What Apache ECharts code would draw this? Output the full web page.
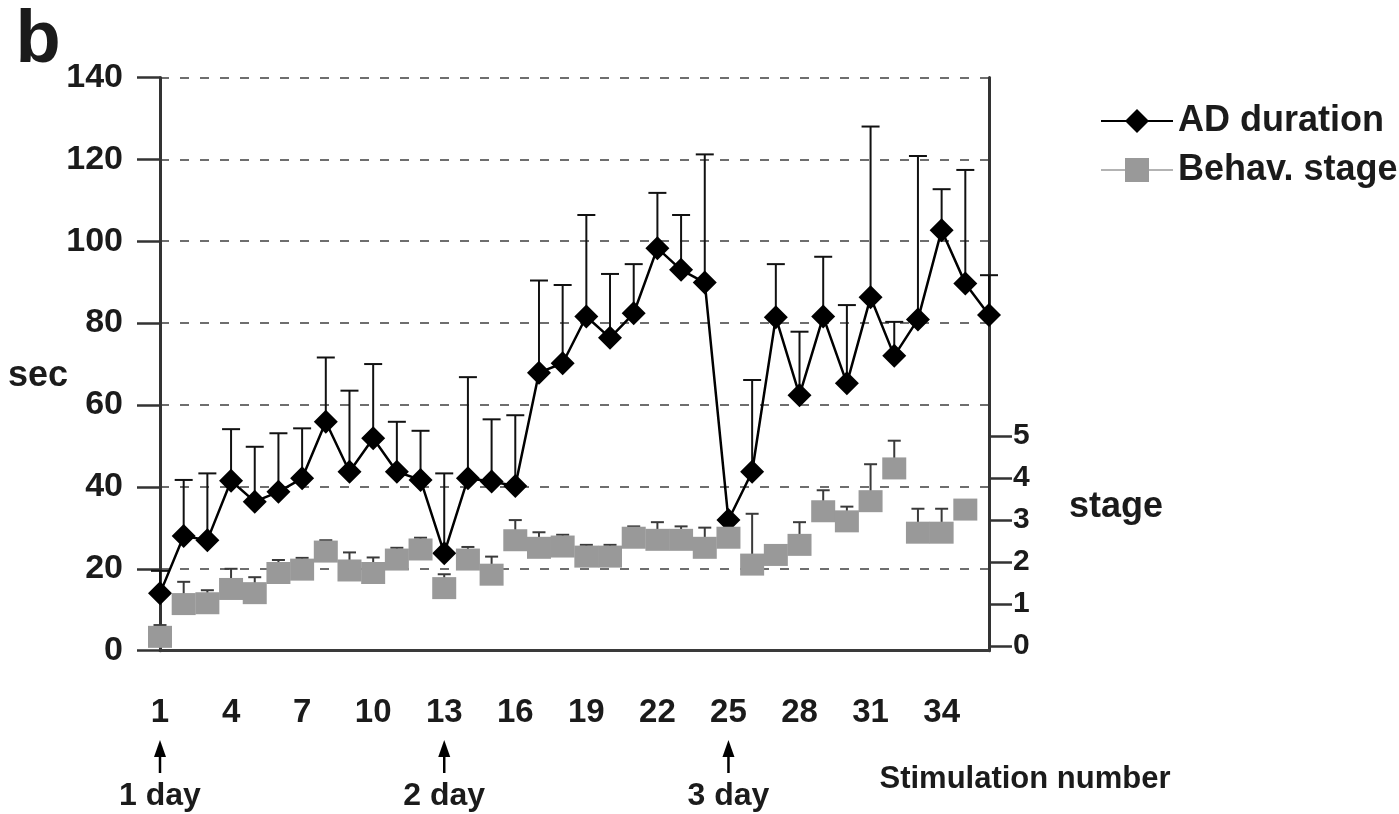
<!DOCTYPE html>
<html lang="en">
<head>
<meta charset="UTF-8">
<title>AD duration / Behav. stage</title>
<style>
  html, body { margin: 0; padding: 0; background: #fff; }
  #chart { width: 1399px; height: 814px; }
</style>
</head>
<body>
<div id="chart"></div>
<script src="https://cdn.jsdelivr.net/npm/echarts@6/dist/echarts.min.js"></script>
<script>
// stimulation numbers on the x axis
var stimNum = ['1','2','3','4','5','6','7','8','9','10','11','12','13','14','15','16','17','18',
  '19','20','21','22','23','24','25','26','27','28','29','30','31','32','33','34','35','36'];

// AD duration (sec), mean and top of the error bar
var adMean = [14.0, 28.0, 27.0, 41.5, 36.4, 38.8, 42.1, 55.9, 43.7, 51.9, 43.7, 41.7,
  23.8, 42.1, 41.3, 40.2, 67.9, 70.2, 81.6, 76.4, 82.4, 98.3, 93.0, 89.9,
  31.9, 43.7, 81.4, 62.4, 81.6, 65.3, 86.3, 72.0, 80.9, 102.7, 89.7, 82.0];
var adTop = [19.5, 41.7, 43.3, 54.1, 49.8, 53.1, 54.3, 71.6, 63.5, 70.0, 55.9, 53.7,
  43.3, 66.8, 56.5, 57.5, 90.4, 89.3, 106.4, 92.0, 94.4, 111.8, 106.4, 121.2,
  31.9, 66.1, 94.4, 77.9, 96.2, 84.4, 128.0, 80.3, 120.8, 112.7, 117.4, 91.7];

// behavioural stage, mean and top of the error bar
var stageMean = [0.22, 1.0, 1.02, 1.36, 1.26, 1.74, 1.82, 2.25, 1.80, 1.74, 2.06, 2.30,
  1.38, 2.06, 1.70, 2.52, 2.34, 2.37, 2.13, 2.13, 2.58, 2.53, 2.53, 2.34,
  2.58, 1.94, 2.17, 2.41, 3.21, 2.97, 3.45, 4.23, 2.70, 2.70, 3.25, null];
var stageTop = [0.5, 1.53, 1.33, 1.84, 1.64, 2.05, 2.10, 2.52, 2.23, 2.11, 2.34, 2.58,
  1.71, 2.36, 2.13, 3.0, 2.71, 2.65, 2.41, 2.41, 2.85, 2.95, 2.85, 2.82,
  2.58, 3.15, 2.17, 2.95, 3.71, 3.32, 4.33, 4.89, 3.27, 3.27, 3.25, null];

var stageTicks = [0, 1, 2, 3, 4, 5];

// day markers under the axis
var dayStart = ['1', '13', '25'];
var dayLabel = ['1 day', '2 day', '3 day'];

var FONT = '"Liberation Sans", Arial, Helvetica, sans-serif';
var INK = '#1b1b1b';

function errData(mean, top) {
  var out = [];
  for (var i = 0; i < mean.length; i++) {
    if (mean[i] == null || top[i] == null) continue;
    out.push([i, mean[i], top[i]]);
  }
  return out;
}

function errRenderer(color, width, cap) {
  return function (params, api) {
    var lo = api.value(1), hi = api.value(2);
    if (!(hi > lo)) return null;
    var p0 = api.coord([api.value(0), lo]);
    var p1 = api.coord([api.value(0), hi]);
    var st = { stroke: color, lineWidth: width };
    return {
      type: 'group',
      children: [
        { type: 'line', shape: { x1: p0[0], y1: p0[1], x2: p1[0], y2: p1[1] }, style: st },
        { type: 'line', shape: { x1: p1[0] - cap / 2, y1: p1[1], x2: p1[0] + cap / 2, y2: p1[1] }, style: st }
      ]
    };
  };
}

var chart = echarts.init(document.getElementById('chart'));

var option = {
  animation: false,
  backgroundColor: '#fff',
  textStyle: { fontFamily: FONT, fontWeight: 'bold', color: INK },
  grid: { left: 160, right: 410, top: 77.4, bottom: 163.3, containLabel: false },
  legend: {
    orient: 'vertical',
    left: 1095,
    top: 98,
    itemWidth: 72,
    itemHeight: 30,
    itemGap: 13,
    textStyle: { fontFamily: FONT, fontWeight: 'bold', fontSize: 36, color: INK },
    data: [
      { name: 'AD duration' },
      { name: 'Behav. stage', lineStyle: { opacity: 1, color: '#9a9a9a', width: 1.5 } }
    ]
  },
  xAxis: {
    type: 'category',
    data: stimNum,
    boundaryGap: false,
    axisLine: { lineStyle: { color: '#3a3a3a', width: 3 } },
    axisTick: { show: false },
    axisLabel: {
      interval: 2,
      margin: 46,
      fontSize: 33,
      fontWeight: 'bold',
      fontFamily: FONT,
      color: INK
    },
    splitLine: { show: false }
  },
  yAxis: [
    {
      type: 'value',
      min: 0,
      max: 140,
      interval: 20,
      axisLine: { show: true, lineStyle: { color: '#333', width: 3 } },
      axisTick: { show: true, length: 23, lineStyle: { color: '#333', width: 2.5 } },
      axisLabel: { margin: 37, fontSize: 34, fontWeight: 'bold', fontFamily: FONT, color: INK },
      splitLine: { show: true, lineStyle: { color: '#6e6e6e', width: 2, type: [9, 11] } }
    },
    {
      type: 'value',
      position: 'right',
      min: -0.11,
      max: 13.54,
      axisLine: { show: true, lineStyle: { color: '#333', width: 3 } },
      axisTick: { show: true, length: 23, customValues: stageTicks, lineStyle: { color: '#333', width: 2.5 } },
      axisLabel: { margin: 24, customValues: stageTicks, fontSize: 30, fontWeight: 'bold', fontFamily: FONT, color: INK },
      splitLine: { show: false }
    }
  ],
  series: [
    {
      name: 'adErr',
      type: 'custom',
      yAxisIndex: 0,
      z: 1,
      renderItem: errRenderer('#111', 2, 18),
      encode: { x: 0, y: [1, 2] },
      data: errData(adMean, adTop)
    },
    {
      name: 'AD duration',
      type: 'line',
      yAxisIndex: 0,
      z: 2,
      data: adMean,
      symbol: 'diamond',
      symbolSize: 24,
      showAllSymbol: true,
      lineStyle: { color: '#000', width: 2.5 },
      itemStyle: { color: '#000' }
    },
    {
      name: 'stageErr',
      type: 'custom',
      yAxisIndex: 1,
      z: 3,
      renderItem: errRenderer('#3a3a3a', 2, 13),
      encode: { x: 0, y: [1, 2] },
      data: errData(stageMean, stageTop)
    },
    {
      name: 'Behav. stage',
      type: 'line',
      yAxisIndex: 1,
      z: 4,
      data: stageMean,
      symbol: 'rect',
      symbolSize: [24, 22],
      showAllSymbol: true,
      connectNulls: false,
      lineStyle: { color: '#9a9a9a', width: 1, opacity: 0 },
      itemStyle: { color: '#999' }
    }
  ]
};

chart.setOption(option);

// annotations placed through the axes
var g = [];
function txt(x, y, s, size, align) {
  return {
    type: 'text', silent: true, z: 10,
    style: {
      x: x, y: y, text: s, fill: INK,
      font: 'bold ' + size + 'px ' + FONT,
      textAlign: align || 'center', textVerticalAlign: 'middle'
    }
  };
}
g.push(txt(38, 42, 'b', 74));
g.push(txt(38, chart.convertToPixel({ yAxisIndex: 0 }, 67), 'sec', 36));
g.push(txt(1116, chart.convertToPixel({ yAxisIndex: 1 }, 3.3), 'stage', 36));
g.push(txt(1025, 779, 'Stimulation number', 31));
for (var i = 0; i < dayStart.length; i++) {
  var x = chart.convertToPixel({ xAxisIndex: 0 }, stimNum.indexOf(dayStart[i]));
  g.push({
    type: 'line', silent: true,
    shape: { x1: x, y1: 773, x2: x, y2: 752 },
    style: { stroke: '#000', lineWidth: 2.5 }
  });
  g.push({
    type: 'polygon', silent: true,
    shape: { points: [[x, 740], [x - 6, 757], [x + 6, 757]] },
    style: { fill: '#000' }
  });
  g.push(txt(x, 796, dayLabel[i], 32));
}
chart.setOption({ graphic: g });
</script>
</body>
</html>
